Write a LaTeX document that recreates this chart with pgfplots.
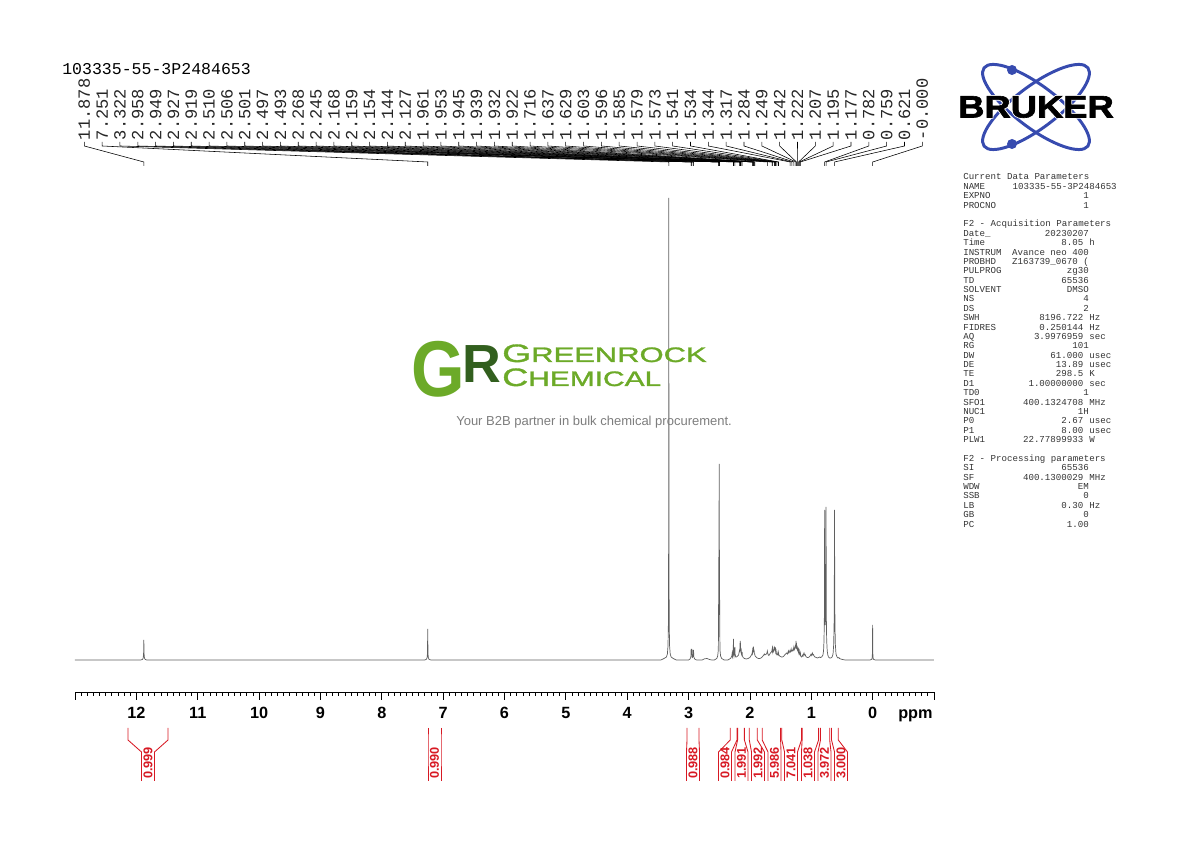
\documentclass[border=0pt]{standalone}
\usepackage{pgfplots}
\pgfplotsset{compat=1.18}
\usepackage{fontspec}
\setmainfont{Liberation Sans}
\newfontfamily\mono{Liberation Mono}
\newfontfamily\heavy{Liberation Sans Bold}[FakeBold=2]
\newfontfamily\halo{Liberation Sans Bold}[FakeBold=7]
\newfontfamily\semi{Liberation Sans}[FakeBold=1.3]
\definecolor{specgray}{RGB}{95,95,95}
\definecolor{intred}{RGB}{215,25,35}
\definecolor{brukerblue}{RGB}{55,75,175}
\definecolor{grlight}{RGB}{108,170,40}
\definecolor{grdark}{RGB}{50,95,30}
\definecolor{taggray}{RGB}{125,125,125}

% parameter list: line index, name, value (, unit)
\newcommand\prm[3]{%
  \node[anchor=base west] at (963,{662-9.38*#1}) {#2};
  \node[anchor=base east] at (1089.1,{662-9.38*#1}) {#3};}
\newcommand\prmu[4]{%
  \node[anchor=base west] at (963,{662-9.38*#1}) {#2};
  \node[anchor=base east] at (1083.6,{662-9.38*#1}) {#3};
  \node[anchor=base west] at (1089.1,{662-9.38*#1}) {#4};}
% integral bracket: left px, right px, label px, value
\newcommand\integ[4]{%
  \draw[intred, line width=0.6pt] (#1,114) -- (#1,102) -- ({#3-6.5},90) -- ({#3-6.5},61);
  \draw[intred, line width=0.6pt] (#2,114) -- (#2,102) -- ({#3+6.5},90) -- ({#3+6.5},61);
  \node[rotate=90, inner sep=0pt, text=intred, font=\fontsize{9}{9}\bfseries] at (#3,79) {#4};}

\begin{document}
\begin{tikzpicture}[x=0.70756pt, y=0.70756pt]
\path[use as bounding box] (0,0) rectangle (1190,842);

\begin{axis}[
    at={(53.067pt,106.134pt)}, anchor=south west,
    scale only axis, width=607.79pt, height=376.42pt,
    xmin=-1, xmax=13, x dir=reverse,
    ymin=-32, ymax=500,
    hide y axis,
    axis x line*=bottom,
    x axis line style={-, line width=0.6pt},
    xtick={0,1,...,12},
    minor xtick={-1,-0.9,...,13.01},
    extra x ticks={-1,13}, extra x tick labels={},
    tick align=outside,
    major tick length=5.66pt, minor tick length=2.6pt,
    tick style={black, line width=0.5pt},
    xticklabel style={font=\fontsize{11.5}{12}\bfseries, inner sep=0pt, anchor=north, yshift=-4.7pt},
    /pgf/number format/assume math mode=true,
    clip=false,
]
\addplot[specgray, line width=0.5pt] coordinates {
(13.0,0)
(11.93,0)(11.90,0.6)(11.888,2)(11.882,6)(11.878,20)(11.874,6)(11.868,2)(11.856,0.6)(11.83,0)
(7.30,0)(7.27,0.8)(7.259,3)(7.255,8)(7.251,31)(7.247,8)(7.243,3)(7.232,0.8)(7.20,0)
(3.45,0)(3.40,1.5)(3.36,3)(3.345,6)(3.335,14)(3.329,35)(3.325,110)(3.322,462)(3.319,110)(3.315,35)(3.309,14)(3.299,6)(3.284,3)(3.25,1.5)(3.20,0)
(3.00,0)(2.975,1)(2.963,3)(2.958,11)(2.954,5)(2.949,11)(2.944,3)(2.935,2.5)(2.931,4)(2.927,10)(2.923,5)(2.919,10)(2.914,3)(2.90,1)(2.87,0)
(2.78,0)(2.74,1.2)(2.70,1.5)(2.66,0.5)(2.62,0)
(2.58,0)(2.54,1.5)(2.525,4)(2.515,10)(2.512,30)(2.510,60)(2.508,45)(2.506,110)(2.504,100)(2.501,196)(2.498,100)(2.497,110)(2.495,45)(2.493,60)(2.491,30)(2.488,10)(2.478,4)(2.46,1.5)(2.42,0)
(2.36,0)(2.33,1)(2.31,2)(2.295,4)(2.288,7)(2.283,3)(2.276,5)(2.272,9)(2.268,21)(2.264,9)(2.258,4)(2.252,6)(2.249,8)(2.245,13)(2.241,6)(2.232,3)(2.22,3)(2.2,4)
(2.185,5)(2.175,8)(2.168,10)(2.163,9)(2.159,19)(2.156,14)(2.154,17)(2.150,9)(2.144,12)(2.139,6)(2.133,5)(2.127,8)(2.122,4)(2.11,2.5)(2.09,1.5)(2.06,1)(2.03,1.5)
(2.00,2.5)(1.985,4)(1.975,5)(1.967,6)(1.961,8)(1.957,7)(1.953,12)(1.949,9)(1.945,13)(1.942,10)(1.939,11)(1.936,8)(1.932,10)(1.927,6)(1.922,6)(1.915,4)(1.90,3)(1.88,2)(1.86,1.5)(1.84,1.5)(1.82,2)
(1.80,3)(1.78,4.5)(1.765,6)(1.755,5)(1.745,5.5)(1.73,6)(1.722,7)(1.716,9)(1.710,7)(1.70,5)(1.69,4.5)(1.675,6)(1.66,7.5)(1.65,8)(1.643,9)(1.637,11)(1.633,9)(1.629,12)(1.62,8)(1.612,9)(1.607,10)(1.603,13)(1.600,10)(1.596,12)(1.590,10)(1.585,11)(1.582,9)(1.579,10)(1.576,8)(1.573,9)(1.567,6)(1.557,5)(1.548,6)(1.541,8)(1.538,6)(1.534,7)(1.527,5)(1.515,4)(1.50,3.5)(1.485,3)(1.47,3)
(1.455,3.5)(1.44,4.5)(1.425,5.5)(1.41,6.5)(1.40,7)(1.39,6)(1.38,7.5)(1.372,9)(1.365,7)(1.355,8)(1.349,9)(1.344,10)(1.338,8)(1.33,8.5)(1.322,9.5)(1.317,11)(1.311,9)(1.30,9)(1.29,11)(1.284,13)(1.278,10)(1.27,11)(1.262,13)(1.255,15)(1.252,14)(1.249,19)(1.246,14)(1.242,17)(1.238,12)(1.232,11)(1.226,10)(1.222,12)(1.216,9)(1.211,8)(1.207,10)(1.201,7)(1.195,9)(1.19,6)(1.183,5)(1.177,7)(1.171,4)(1.16,3)(1.15,3.5)
(1.14,5)(1.133,4)(1.125,6)(1.118,7)(1.11,5)(1.10,5.5)(1.092,4)(1.08,3)(1.065,2.5)(1.05,2.5)(1.035,3)(1.02,4)(1.008,5.5)(1.0,4.5)(0.99,6)(0.982,7)(0.975,5)(0.965,5.5)(0.955,4)(0.94,3)(0.92,2.5)(0.90,2)(0.88,2.5)(0.865,3)(0.85,2.5)(0.83,3)
(0.81,5)(0.80,9)(0.792,20)(0.786,45)(0.782,150)(0.778,50)(0.771,35)(0.765,50)(0.759,153)(0.755,45)(0.749,20)(0.74,9)(0.73,5)(0.72,3)(0.70,2)(0.68,2)
(0.66,3)(0.645,6)(0.635,15)(0.628,35)(0.624,80)(0.621,150)(0.618,80)(0.614,35)(0.607,15)(0.597,6)(0.58,3)(0.565,2)(0.55,2.5)(0.54,1.5)(0.52,1)(0.49,0.5)(0.45,0)
(0.04,0)(0.012,0.8)(0.006,3)(0.003,8)(0.000,35)(-0.003,8)(-0.006,3)(-0.012,0.8)(-0.04,0)
(-1.0,0)
};
\end{axis}

% axis unit label
\node[anchor=base west, inner sep=0pt, font=\fontsize{11.5}{12}\bfseries] at (898,123.7) {ppm};

% sample name
\node[anchor=base west, inner sep=0pt, font=\mono\fontsize{11.7}{12}\selectfont] at (62,767.5) {103335-55-3P2484653};

% peak labels and their connectors
\foreach \p [count=\i from 0] in {11.878,7.251,3.322,2.958,2.949,2.927,2.919,2.510,2.506,2.501,2.497,2.493,2.268,2.245,2.168,2.159,2.154,2.144,2.127,1.961,1.953,1.945,1.939,1.932,1.922,1.716,1.637,1.629,1.603,1.596,1.585,1.579,1.573,1.541,1.534,1.344,1.317,1.284,1.249,1.242,1.222,1.207,1.195,1.177,0.782,0.759,0.621,-0.000} {
  \pgfmathsetmacro\lx{84.3+17.83*\i}
  \pgfmathsetmacro\px{872.64-61.357*\p}
  \draw[black, line width=0.4pt] (\lx,700) -- (\lx,696) -- (\px,680) -- (\px,676);
  \node[rotate=90, anchor=west, inner sep=0pt, text=black!85, font=\mono\fontsize{12.1}{12}\selectfont] at (\lx,701.5) {\p};
}

% integrals
\integ{128}{168}{148}{0.999}
\integ{428}{441}{434.5}{0.990}
\integ{687}{699}{693}{0.988}
\integ{730.3}{737.0}{725}{0.984}
\integ{737.6}{744.4}{741.5}{1.991}
\integ{749.3}{757.3}{758}{1.992}
\integ{762.2}{780.6}{774.5}{5.986}
\integ{781.8}{801.5}{791}{7.041}
\integ{802.1}{818.6}{808}{1.038}
\integ{820.5}{829.7}{824.5}{3.972}
\integ{831.5}{838.3}{841}{3.000}

% Bruker logo
\begin{scope}
  \draw[brukerblue, line width=2.1pt, rotate around={-37:(1036,735)}] (1036,735) ellipse [x radius=65, y radius=21];
  \draw[brukerblue, line width=2.1pt, rotate around={37:(1036,735)}] (1036,735) ellipse [x radius=65, y radius=21];
  \fill[brukerblue] (1012,772) circle (5);
  \fill[brukerblue] (1012,698) circle (5);
  \node[inner sep=0pt, text=white, font=\halo\fontsize{22}{22}\selectfont] at (1036,735) {\scalebox{1.17}[1]{BRUKER}};
  \node[inner sep=0pt, text=black, font=\heavy\fontsize{22}{22}\selectfont] at (1036,735) {\scalebox{1.17}[1]{BRUKER}};
\end{scope}

% acquisition and processing parameters
\begin{scope}[every node/.style={inner sep=0pt, text=black!80, font=\mono\fontsize{6.46}{7}\selectfont}]
  \node[anchor=base west] at (963,662) {Current Data Parameters};
  \node[anchor=base west] at (963,{662-9.38}) {NAME};
  \node[anchor=base east] at (1117,{662-9.38}) {103335-55-3P2484653};
  \prm{2}{EXPNO}{1}
  \prm{3}{PROCNO}{1}
  \node[anchor=base west] at (963,{662-9.38*5}) {F2 - Acquisition Parameters};
  \prm{6}{Date\_}{20230207}
  \prmu{7}{Time}{8.05}{h}
  \prm{8}{INSTRUM}{Avance neo 400}
  \prm{9}{PROBHD}{Z163739\_0670 (}
  \prm{10}{PULPROG}{zg30}
  \prm{11}{TD}{65536}
  \prm{12}{SOLVENT}{DMSO}
  \prm{13}{NS}{4}
  \prm{14}{DS}{2}
  \prmu{15}{SWH}{8196.722}{Hz}
  \prmu{16}{FIDRES}{0.250144}{Hz}
  \prmu{17}{AQ}{3.9976959}{sec}
  \prm{18}{RG}{101}
  \prmu{19}{DW}{61.000}{usec}
  \prmu{20}{DE}{13.89}{usec}
  \prmu{21}{TE}{298.5}{K}
  \prmu{22}{D1}{1.00000000}{sec}
  \prm{23}{TD0}{1}
  \prmu{24}{SFO1}{400.1324708}{MHz}
  \prm{25}{NUC1}{1H}
  \prmu{26}{P0}{2.67}{usec}
  \prmu{27}{P1}{8.00}{usec}
  \prmu{28}{PLW1}{22.77899933}{W}
  \node[anchor=base west] at (963,{662-9.38*30}) {F2 - Processing parameters};
  \prm{31}{SI}{65536}
  \prmu{32}{SF}{400.1300029}{MHz}
  \prm{33}{WDW}{EM}
  \prm{34}{SSB}{0}
  \prmu{35}{LB}{0.30}{Hz}
  \prm{36}{GB}{0}
  \prm{37}{PC}{1.00}
\end{scope}

% watermark
\node[anchor=base west, inner sep=0pt, text=grlight, font=\fontsize{56}{56}\bfseries] at (411,445) {\scalebox{0.87}[1]{G}};
\node[anchor=base west, inner sep=0pt, text=grdark, font=\fontsize{38}{38}\bfseries] at (462,459) {R};
\node[anchor=base west, inner sep=0pt, text=grlight, font=\semi] at (502,480)
  {\scalebox{1.48}[1]{\fontsize{17.8}{18}\selectfont G\fontsize{14.8}{15}\selectfont REENROCK}};
\node[anchor=base west, inner sep=0pt, text=grlight, font=\semi] at (502,456)
  {\scalebox{1.43}[1]{\fontsize{17.8}{18}\selectfont C\fontsize{14.8}{15}\selectfont HEMICAL}};
\node[anchor=base west, inner sep=0pt, text=taggray, font=\fontsize{9.2}{10}\selectfont] at (456,416)
  {Your B2B partner in bulk chemical procurement.};
\end{tikzpicture}
\end{document}
